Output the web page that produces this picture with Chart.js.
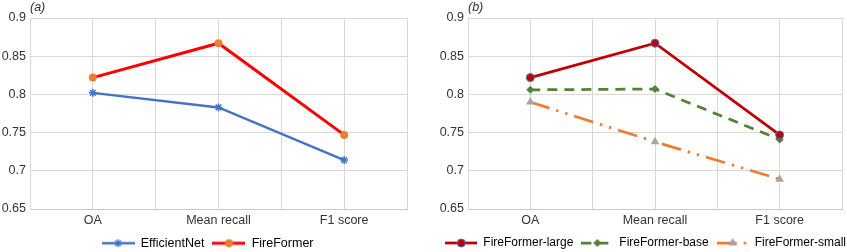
<!DOCTYPE html>
<html>
<head>
<meta charset="utf-8">
<script src="https://cdn.jsdelivr.net/npm/chart.js@4.4.1/dist/chart.umd.min.js"></script>
<style>
  html, body { margin: 0; padding: 0; background: #fff; }
  .panel { position: absolute; top: 0; height: 252px; }
  #panelA { left: 0; width: 420px; }
  #panelB { left: 420px; width: 427px; }
</style>
</head>
<body>
<div class="panel" id="panelA"><canvas id="chartA"></canvas></div>
<div class="panel" id="panelB"><canvas id="chartB"></canvas></div>
<script>
// values
const categories = ['OA', 'Mean recall', 'F1 score'];
const yTicks = [0.65, 0.7, 0.75, 0.8, 0.85, 0.9];

const efficientNet = [0.802, 0.783, 0.714];
const fireFormer = [0.822, 0.867, 0.747];

const fireFormerLarge = [0.822, 0.867, 0.747];
const fireFormerBase = [0.806, 0.807, 0.741];
const fireFormerSmall = [0.790, 0.738, 0.689];

const FONT = '"Liberation Sans", Arial, sans-serif';
const TEXT = '#333';
const GRID = '#D9D9D9';

const toPoints = (values) => values.map((y, x) => ({ x, y }));

function markerIcon(ds, width) {
  const c = document.createElement('canvas');
  c.width = width;
  c.height = 12;
  const ctx = c.getContext('2d');
  ctx.strokeStyle = ds.borderColor;
  ctx.lineWidth = ds.borderWidth;
  ctx.setLineDash(ds.borderDash || []);
  ctx.beginPath();
  ctx.moveTo(0, 6);
  ctx.lineTo(width, 6);
  ctx.stroke();
  ctx.setLineDash([]);
  ctx.fillStyle = ds.pointBackgroundColor;
  ctx.strokeStyle = ds.pointBorderColor;
  ctx.lineWidth = ds.pointBorderWidth;
  Chart.helpers.drawPoint(ctx, {
    pointStyle: ds.pointStyle,
    radius: ds.pointRadius,
    borderWidth: ds.pointBorderWidth,
    rotation: 0
  }, width / 2, 6);
  return c;
}

// "(a)" / "(b)" above the plot, plus a small horizontal nudge of the legend
const panelLabel = {
  id: 'panelLabel',
  afterLayout(chart, args, opts) {
    if (chart.legend && opts.legendShift) {
      chart.legend.left += opts.legendShift;
      chart.legend.right += opts.legendShift;
    }
  },
  afterDraw(chart, args, opts) {
    const { ctx, chartArea } = chart;
    ctx.save();
    ctx.font = `italic 12.5px ${FONT}`;
    ctx.fillStyle = TEXT;
    ctx.textBaseline = 'middle';
    ctx.fillText(opts.text, chartArea.left, 8);
    ctx.restore();
  }
};

function buildOptions(label, axisWidth, rightPad, legendFont, iconWidth, legendAlign, legendShift) {
  return {
    responsive: true,
    maintainAspectRatio: false,
    animation: false,
    layout: { padding: { top: 18, right: rightPad, bottom: 0, left: 0 } },
    scales: {
      x: {
        type: 'linear',
        min: -0.5,
        max: categories.length - 0.5,
        afterBuildTicks: (axis) => {
          const ticks = [];
          for (let i = 0; i <= categories.length * 2; i += 1) {
            ticks.push({ value: i / 2 - 0.5 });
          }
          axis.ticks = ticks;
        },
        afterFit: (axis) => { axis.height = 20; },
        ticks: {
          autoSkip: false,
          maxRotation: 0,
          padding: 4,
          color: TEXT,
          font: { family: FONT, size: 12.5 },
          callback: (v) => (Number.isInteger(v) ? categories[v] : '')
        },
        grid: { color: GRID, drawTicks: false },
        border: { color: '#C8C8C8' }
      },
      y: {
        min: yTicks[0],
        max: yTicks[yTicks.length - 1],
        afterBuildTicks: (axis) => { axis.ticks = yTicks.map((value) => ({ value })); },
        afterFit: (axis) => { axis.width = axisWidth; },
        ticks: {
          padding: 4,
          color: TEXT,
          font: { family: FONT, size: 12.5 },
          callback: (v) => String(Number(v.toFixed(2)))
        },
        grid: { color: GRID, drawTicks: false },
        border: { color: GRID }
      }
    },
    plugins: {
      panelLabel: { text: label, legendShift },
      tooltip: { enabled: false },
      legend: {
        position: 'bottom',
        align: legendAlign,
        maxHeight: 23,
        labels: {
          usePointStyle: true,
          pointStyleWidth: iconWidth,
          padding: 8,
          color: TEXT,
          font: { family: FONT, size: legendFont },
          generateLabels: (chart) => chart.data.datasets.map((ds, i) => ({
            text: ds.label,
            pointStyle: markerIcon(ds, iconWidth),
            fillStyle: ds.borderColor,
            strokeStyle: ds.borderColor,
            lineWidth: 0,
            hidden: false,
            datasetIndex: i
          }))
        }
      }
    }
  };
}

// eslint-disable-next-line no-new
new Chart(document.getElementById('chartA'), {
  type: 'line',
  data: {
    datasets: [{
      label: 'EfficientNet',
      data: toPoints(efficientNet),
      borderColor: '#4472C4',
      borderWidth: 2.5,
      pointStyle: 'star',
      pointRadius: 4,
      pointBorderWidth: 1.5,
      pointBorderColor: '#4472C4',
      pointBackgroundColor: '#4472C4'
    }, {
      label: 'FireFormer',
      data: toPoints(fireFormer),
      borderColor: '#FF0000',
      borderWidth: 3,
      pointStyle: 'circle',
      pointRadius: 4,
      pointBorderWidth: 0,
      pointBorderColor: '#ED7D31',
      pointBackgroundColor: '#ED7D31'
    }]
  },
  options: buildOptions('(a)', 30, 13, 12.5, 33, 'center', 4),
  plugins: [panelLabel]
});

// eslint-disable-next-line no-new
new Chart(document.getElementById('chartB'), {
  type: 'line',
  data: {
    datasets: [{
      label: 'FireFormer-large',
      data: toPoints(fireFormerLarge),
      borderColor: '#C00000',
      borderWidth: 2.75,
      pointStyle: 'circle',
      pointRadius: 4,
      pointBorderWidth: 1,
      pointBorderColor: '#4472C4',
      pointBackgroundColor: '#C00000'
    }, {
      label: 'FireFormer-base',
      data: toPoints(fireFormerBase),
      borderColor: '#548235',
      borderWidth: 2.75,
      borderDash: [10, 7],
      pointStyle: 'rectRot',
      pointRadius: 4,
      pointBorderWidth: 0,
      pointBorderColor: '#548235',
      pointBackgroundColor: '#548235'
    }, {
      label: 'FireFormer-small',
      data: toPoints(fireFormerSmall),
      borderColor: '#ED7D31',
      borderWidth: 2.75,
      borderDash: [20, 7, 2.5, 7, 2.5, 7],
      pointStyle: 'triangle',
      pointRadius: 5,
      pointBorderWidth: 0,
      pointBorderColor: '#A5A5A5',
      pointBackgroundColor: '#A5A5A5'
    }]
  },
  options: buildOptions('(b)', 48, 1, 12, 32, 'end', 8),
  plugins: [panelLabel]
});
</script>
</body>
</html>
